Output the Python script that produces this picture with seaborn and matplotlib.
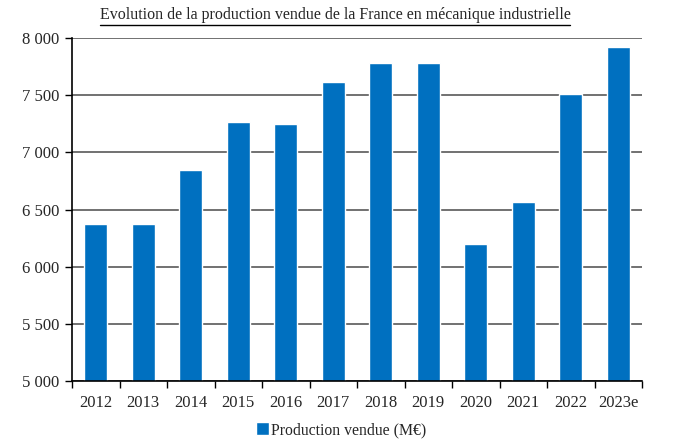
import matplotlib
matplotlib.use("Agg")
import matplotlib.pyplot as plt
import matplotlib.ticker as mticker
from matplotlib.patches import Patch
import seaborn as sns
import pandas as pd

# Data
years = ["2012", "2013", "2014", "2015", "2016", "2017",
         "2018", "2019", "2020", "2021", "2022", "2023e"]
production = [6373, 6373, 6848, 7262, 7248, 7611,
              7783, 7780, 6200, 6567, 7511, 7922]

df = pd.DataFrame({"annee": years, "production": production})

sns.set_theme(style="white")
plt.rcParams["font.family"] = ["Liberation Serif", "DejaVu Serif"]

fig = plt.figure(figsize=(7, 4.48), dpi=100)
ax = fig.add_axes([72 / 700, 1 - 381 / 448, 570 / 700, 343 / 448])

sns.barplot(data=df, x="annee", y="production", color="#0070C0",
            saturation=1, width=0.48, ax=ax)

ax.set_ylim(5000, 8000)
ax.set_xlim(-0.5, len(years) - 0.5)
ax.yaxis.set_major_locator(mticker.MultipleLocator(500))
ax.yaxis.set_major_formatter(
    mticker.FuncFormatter(lambda v, p: f"{int(v):,}".replace(",", " ")))
ax.yaxis.grid(True, color="#595959", linewidth=1.2)
ax.set_axisbelow(True)

# Tick marks between categories on x
ax.set_xticks([i + 0.5 for i in range(-1, len(years))], minor=True)
ax.tick_params(axis="x", which="major", length=0, labelsize=12, pad=10)
ax.tick_params(axis="x", which="minor", length=5, width=1, color="black",
               direction="out", bottom=True)
ax.tick_params(axis="y", length=5, width=1, color="black", direction="out",
               left=True, labelsize=12, pad=4)

for side in ["top", "right"]:
    ax.spines[side].set_visible(False)
for side in ["left", "bottom"]:
    ax.spines[side].set_color("black")
    ax.spines[side].set_linewidth(1.2)

ax.set_xlabel("")
ax.set_ylabel("")

fig.text(335 / 700, 1 - 15 / 448,
         "Evolution de la production vendue de la France en mécanique industrielle",
         ha="center", va="center", fontsize=11.5)
# underline the title
fig.add_artist(plt.Line2D([100 / 700, 570 / 700], [1 - 25 / 448, 1 - 25 / 448],
                          color="black", linewidth=1))

fig.legend(handles=[Patch(facecolor="#0070C0", label="Production vendue (M€)")],
           loc="center", bbox_to_anchor=(341 / 700, 1 - 430 / 448),
           frameon=False, fontsize=11.3, handlelength=0.85, handleheight=0.85,
           handletextpad=0.1)

fig.savefig("out.png", dpi=100)
